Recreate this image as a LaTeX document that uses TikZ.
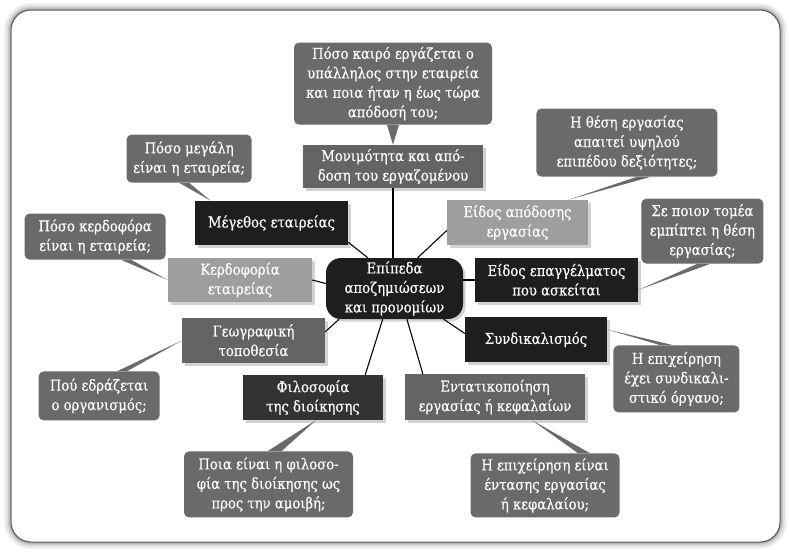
\documentclass[tikz,border=0pt]{standalone}
\usepackage{fontspec}
\setmainfont{DejaVu Serif}[FakeStretch=0.88, FakeBold=0.4]
\usetikzlibrary{positioning, shadows}

\definecolor{askgray}{HTML}{6A6A6A}
\definecolor{midgray}{HTML}{646464}
\definecolor{lightgray}{HTML}{9E9E9E}
\definecolor{darkgray}{HTML}{333333}
\definecolor{nearblack}{HTML}{1E1E1E}

\begin{document}
\begin{tikzpicture}[
    x=1pt, y=1pt,
    node distance=20pt,
    every node/.style={font=\fontsize{15}{19.5}\selectfont, text=white, align=center, inner sep=2pt},
    topic/.style={rectangle, fill=#1, minimum height=44pt,
        drop shadow={shadow xshift=2.5pt, shadow yshift=-2.5pt, opacity=0.35}},
    topic/.default=nearblack,
    ask/.style={rectangle, fill=askgray, rounded corners=5pt},
    tail/.style={fill=askgray},
    link/.style={draw=black, line width=1.1pt},
]
    \useasboundingbox (0,0) rectangle (789,-552);
    \fill[white] (0,0) rectangle (789,-552);

    % frame
    \foreach \w/\o in {14/0.05, 10/0.07, 6/0.1, 3/0.15}
        \draw[black, opacity=\o, line width=\w pt, rounded corners=20pt] (11,-10) rectangle (780,-542);
    \draw[fill=white, draw=black!65, line width=1pt, rounded corners=20pt] (11,-10) rectangle (780,-542);

    \node[topic, rounded corners=15pt, minimum width=137pt, minimum height=61pt] (cent) at (394.5,-288.5)
        {Επίπεδα\\αποζημιώσεων\\και προνομίων};

    \node[topic=midgray, minimum width=180pt, minimum height=43pt] (perf) at (393,-166.5)
        {Μονιμότητα και από-\\δοση του εργαζομένου};
    \node[topic, minimum width=153pt] (size) at (271.5,-223) {Μέγεθος εταιρείας};
    \node[topic=lightgray, minimum width=144pt] (profit) at (240,-280) {Κερδοφορία\\εταιρείας};
    \node[topic=lightgray, minimum width=141pt, minimum height=45pt] (kind) at (517.5,-222.5) {Είδος απόδοσης\\εργασίας};
    \node[topic, minimum width=163pt] (job) at (556.5,-280) {Είδος επαγγέλματος\\που ασκείται};
    \node[topic, minimum width=142pt, minimum height=45pt] (union) at (536,-339.5) {Συνδικαλισμός};
    \node[topic=midgray, minimum width=180pt, minimum height=46pt] (intens) at (495,-397) {Εντατικοποίηση\\εργασίας ή κεφαλαίων};
    \node[topic=midgray, minimum width=143pt, minimum height=45pt] (geo) at (253.5,-340.5) {Γεωγραφική\\τοποθεσία};
    \node[topic=darkgray, minimum width=140pt, minimum height=45pt] (phil) at (313,-397.5) {Φιλοσοφία\\της διοίκησης};

    \node[ask, above=of perf, minimum width=198pt, minimum height=82pt] (qperf)
        {Πόσο καιρό εργάζεται ο\\υπάλληλος στην εταιρεία\\και ποια ήταν η έως τώρα\\απόδοσή του;};
    \node[ask, above left=18pt and -57pt of size, minimum width=125pt, minimum height=48pt] (qsize)
        {Πόσο μεγάλη\\είναι η εταιρεία;};
    \node[ask, above left=-2pt and 2pt of profit, minimum width=141pt, minimum height=46pt] (qprofit)
        {Πόσο κερδοφόρα\\είναι η εταιρεία;};
    \node[ask, above right=23pt and -52pt of kind, minimum width=181pt, minimum height=68pt] (qkind)
        {Η θέση εργασίας\\απαιτεί υψηλού\\επιπέδου δεξιότητες;};
    \node[ask, above right=-6pt and 3pt of job, minimum width=122pt, minimum height=65pt] (qjob)
        {Σε ποιον τομέα\\εμπίπτει η θέση\\εργασίας;};
    \node[ask, below right=-17pt and 6pt of union, minimum width=126pt, minimum height=67pt] (qunion)
        {Η επιχείρηση\\έχει συνδικαλι-\\στικό όργανο;};
    \node[ask, below=33pt of intens, xshift=50pt, minimum width=149pt, minimum height=64pt] (qintens)
        {Η επιχείρηση είναι\\έντασης εργασίας\\ή κεφαλαίου;};
    \node[ask, below left=8pt and 22pt of geo, minimum width=121pt, minimum height=49pt] (qgeo)
        {Πού εδράζεται\\ο οργανισμός;};
    \node[ask, below=31pt of phil, xshift=-44.5pt, minimum width=169pt, minimum height=66pt] (qphil)
        {Ποια είναι η φιλοσο-\\φία της διοίκησης ως\\προς την αμοιβή;};

    % callout tails
    \fill[tail] ([xshift=-6pt]qperf.south) -- (perf.north) -- ([xshift=6pt]qperf.south) -- cycle;
    \fill[tail] ([xshift=-10pt]qsize.south) -- ([xshift=16pt]size.north west) -- (qsize.south) -- cycle;
    \fill[tail] ([xshift=26pt]qprofit.south) -- (profit.west) -- ([xshift=36pt]qprofit.south) -- cycle;
    \fill[tail] ([xshift=10pt]qkind.south) -- ([xshift=-20pt]kind.north east) -- ([xshift=24pt]qkind.south) -- cycle;
    \fill[tail] ([xshift=-5pt]qjob.south) -- ([yshift=-10pt]job.east) -- ([xshift=8pt]qjob.south) -- cycle;
    \fill[tail] ([xshift=-16pt]qunion.north) -- ([yshift=10pt]union.east) -- ([xshift=-3pt]qunion.north) -- cycle;
    \fill[tail] ([xshift=33pt]qintens.north) -- ([xshift=37pt]intens.south) -- ([xshift=45pt]qintens.north) -- cycle;
    \fill[tail] ([xshift=18pt]qgeo.north) -- (geo.west) -- ([xshift=28pt]qgeo.north) -- cycle;
    \fill[tail] ([xshift=-1pt]qphil.north) -- ([xshift=3pt]phil.south) -- ([xshift=13pt]qphil.north) -- cycle;

    % links to the centre
    \draw[link] (perf.south) -- (perf.south |- cent.north);
    \draw[link] ([yshift=3pt]size.south east) -- (cent.131);
    \draw[link] ([yshift=-8pt]kind.west) -- (cent.53);
    \draw[link] (profit.east) -- ([yshift=5pt]cent.west);
    \draw[link] (job.west) -- (job.west -| cent.east);
    \draw[link] ([yshift=6pt]union.west) -- (cent.-32);
    \draw[link] ([xshift=18pt]intens.north west) -- (cent.-68);
    \draw[link] ([yshift=-14pt]geo.north east) -- (cent.209);
    \draw[link] ([xshift=-18pt]phil.north east) -- (cent.249);
\end{tikzpicture}
\end{document}
